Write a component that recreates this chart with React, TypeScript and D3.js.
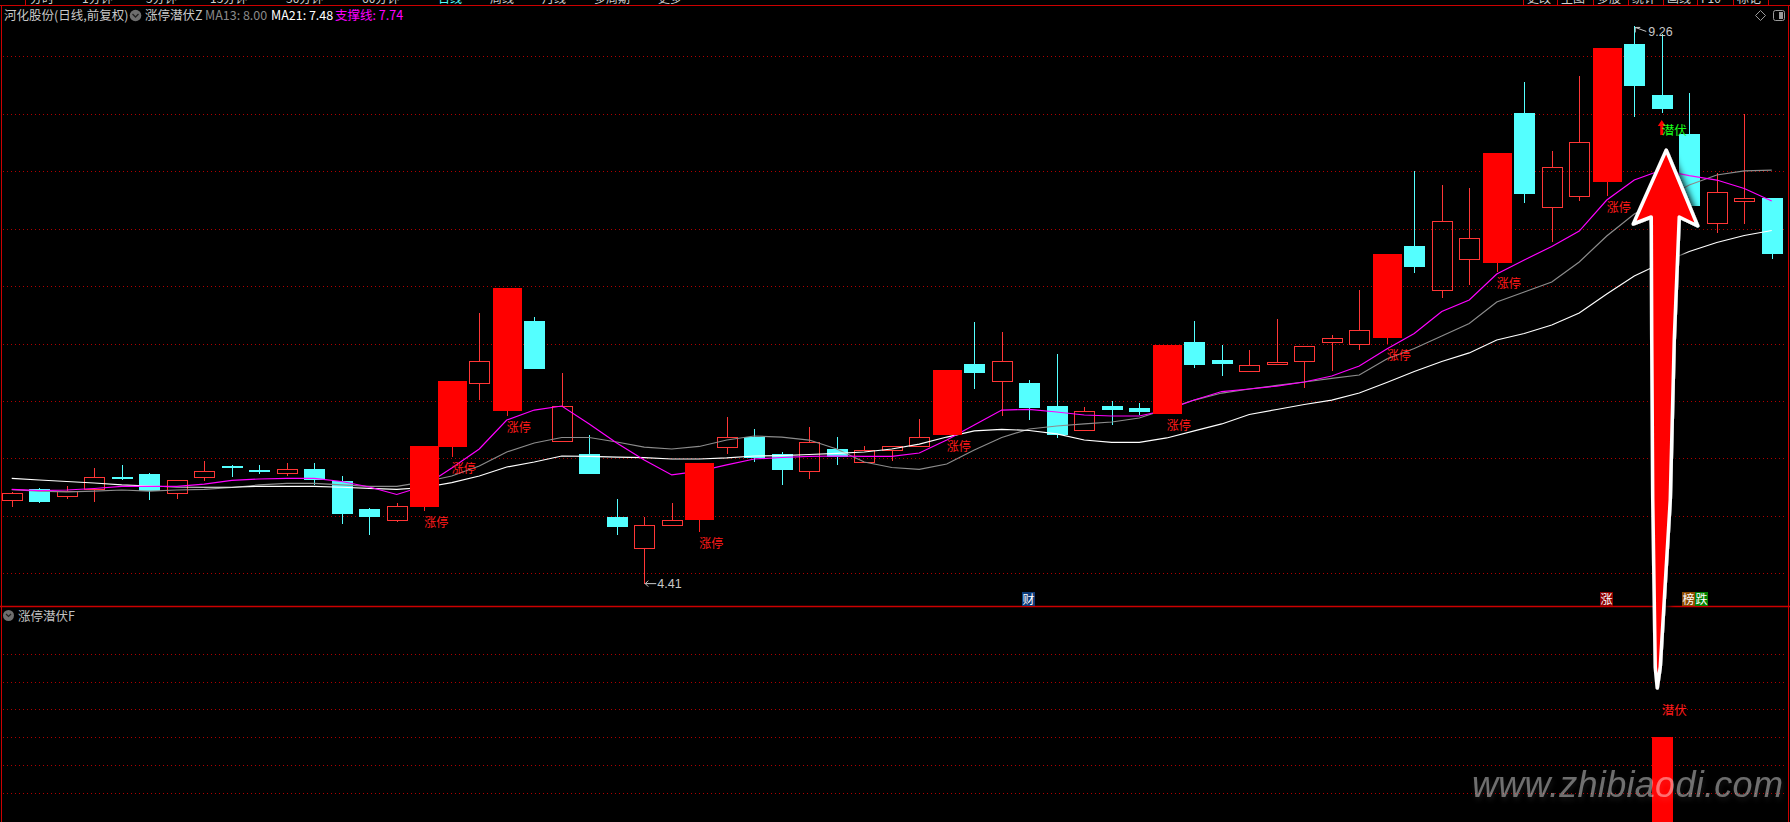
import React, { useEffect } from 'react';
import * as d3 from 'd3';

const W = 1790;
const H = 822;

// ---- daily OHLC (河化股份, 日线 前复权) ----
const opens = [5.14, 5.23, 5.17, 5.23, 5.34, 5.36, 5.20, 5.34, 5.43, 5.40, 5.37, 5.41, 5.30, 5.06, 4.96, 5.08, 5.60, 6.16, 5.91, 6.70, 5.65, 5.54, 4.99, 4.72, 4.92, 4.96, 5.60, 5.69, 5.54, 5.39, 5.58, 5.47, 5.57, 5.61, 5.70, 6.32, 6.17, 6.16, 5.96, 5.75, 5.96, 5.94, 5.89, 6.51, 6.36, 6.26, 6.32, 6.35, 6.51, 6.50, 6.55, 7.35, 6.97, 7.24, 7.20, 8.51, 7.69, 7.78, 7.91, 9.11, 8.66, 8.32, 7.55, 7.74, 7.77];
const highs = [5.21, 5.24, 5.26, 5.42, 5.44, 5.37, 5.31, 5.48, 5.44, 5.44, 5.46, 5.46, 5.35, 5.07, 5.11, 5.61, 6.17, 6.77, 6.98, 6.73, 6.24, 5.70, 5.15, 4.99, 5.11, 5.46, 5.86, 5.76, 5.56, 5.77, 5.69, 5.61, 5.61, 5.84, 6.27, 6.69, 6.60, 6.18, 6.41, 5.95, 6.00, 5.98, 6.49, 6.70, 6.49, 6.44, 6.71, 6.48, 6.57, 6.97, 7.28, 8.00, 7.88, 7.85, 8.16, 8.78, 8.18, 8.83, 9.07, 9.26, 9.19, 8.68, 7.98, 8.50, 7.77];
const lows = [5.08, 5.11, 5.15, 5.12, 5.31, 5.14, 5.15, 5.30, 5.34, 5.36, 5.35, 5.27, 4.93, 4.83, 4.95, 5.04, 5.51, 6.01, 5.87, 6.28, 5.65, 5.36, 4.83, 4.41, 4.92, 4.86, 5.54, 5.47, 5.27, 5.32, 5.44, 5.47, 5.48, 5.61, 5.70, 6.10, 5.87, 5.83, 5.68, 5.75, 5.79, 5.88, 5.89, 6.29, 6.22, 6.26, 6.32, 6.11, 6.26, 6.44, 6.50, 7.11, 6.90, 7.01, 7.12, 7.72, 7.38, 7.74, 7.78, 8.47, 8.51, 7.69, 7.46, 7.54, 7.24];
const closes = [5.20, 5.12, 5.22, 5.34, 5.33, 5.22, 5.31, 5.39, 5.42, 5.39, 5.41, 5.31, 5.02, 4.99, 5.09, 5.61, 6.17, 6.35, 6.98, 6.28, 5.96, 5.36, 4.90, 4.92, 4.96, 5.46, 5.69, 5.50, 5.40, 5.64, 5.51, 5.57, 5.61, 5.69, 6.27, 6.24, 6.35, 5.94, 5.70, 5.91, 5.92, 5.90, 6.49, 6.31, 6.32, 6.31, 6.34, 6.48, 6.55, 6.62, 7.28, 7.17, 7.57, 7.42, 8.16, 7.80, 8.04, 8.25, 9.07, 8.74, 8.54, 7.70, 7.82, 7.77, 7.28];

// limit-up (涨停) days
const limitUpIdx = [15, 16, 18, 25, 34, 42, 50, 54, 58];

// moving averages
const ma13 = [5.229, 5.216, 5.208, 5.216, 5.225, 5.216, 5.225, 5.231, 5.247, 5.269, 5.283, 5.283, 5.269, 5.257, 5.257, 5.295, 5.347, 5.434, 5.556, 5.634, 5.682, 5.682, 5.643, 5.599, 5.582, 5.604, 5.660, 5.695, 5.686, 5.660, 5.582, 5.469, 5.421, 5.405, 5.451, 5.573, 5.682, 5.756, 5.782, 5.800, 5.817, 5.852, 5.930, 6.008, 6.069, 6.104, 6.135, 6.165, 6.196, 6.226, 6.365, 6.457, 6.565, 6.674, 6.861, 6.948, 7.035, 7.210, 7.436, 7.627, 7.749, 7.880, 7.967, 8.002, 8.010];
const ma21 = [5.327, 5.312, 5.299, 5.286, 5.269, 5.260, 5.251, 5.249, 5.249, 5.257, 5.257, 5.257, 5.249, 5.240, 5.231, 5.247, 5.290, 5.347, 5.425, 5.469, 5.521, 5.517, 5.512, 5.506, 5.495, 5.495, 5.504, 5.521, 5.525, 5.534, 5.543, 5.556, 5.582, 5.625, 5.686, 5.739, 5.753, 5.743, 5.713, 5.660, 5.640, 5.640, 5.678, 5.739, 5.800, 5.882, 5.926, 5.969, 6.008, 6.069, 6.161, 6.257, 6.344, 6.418, 6.531, 6.587, 6.661, 6.766, 6.931, 7.088, 7.201, 7.301, 7.379, 7.440, 7.484];
const supportLine = [5.231, 5.219, 5.225, 5.238, 5.256, 5.257, 5.257, 5.277, 5.308, 5.321, 5.327, 5.327, 5.299, 5.251, 5.186, 5.260, 5.417, 5.582, 5.834, 5.921, 5.956, 5.800, 5.634, 5.486, 5.356, 5.390, 5.443, 5.495, 5.508, 5.517, 5.521, 5.517, 5.517, 5.547, 5.660, 5.791, 5.921, 5.926, 5.904, 5.878, 5.869, 5.869, 5.921, 6.008, 6.082, 6.104, 6.130, 6.165, 6.217, 6.304, 6.452, 6.587, 6.779, 6.879, 7.105, 7.227, 7.345, 7.479, 7.749, 7.923, 8.010, 7.962, 7.923, 7.849, 7.741];

// grids
const priceGrid = [9.0, 8.5, 8.0, 7.5, 7.0, 6.5, 6.0, 5.5, 5.0, 4.5];
const lowerGrid = [1, 2, 3, 4, 5, 6];

// 潜伏 signal
const signalIdx = 60;
const signalValue = 3;

// bottom event marks
const markIdx = [37, 58, 61, 61];
const markText = ['财', '涨', '榜', '跌'];
const markBg = ['#0c3a78', '#8a0000', '#8a4a00', '#008000'];
const markShift = [0, 0, 0, 13];

// header
const titleParts = ['河化股份(日线,前复权)', '涨停潜伏Z', 'MA13: 8.00', 'MA21: 7.48', '支撑线: 7.74'];
const titleColors = ['#c8c8c8', '#c8c8c8', '#8a8a8a', '#ffffff', '#ff00ff'];
const titleX = [4, 145, 205, 271, 335];
const topTabs = ['分时', '1分钟', '5分钟', '15分钟', '30分钟', '60分钟', '日线', '周线', '月线', '多周期', '更多'];
const rightTabs = ['更改', '主图', '多股', '统计', '画线', 'F10', '标记'];

const CJK = '"Noto Sans CJK SC", "Noto Sans", sans-serif';
const SANS = '"Liberation Sans", Arial, sans-serif';
const RED = '#ff3636';
const CYAN = '#54ffff';
const GRID = '#b00000';
const BORDER = '#cc0000';

export default function App() {
  useEffect(() => {
    document.body.style.margin = '0';
    document.body.style.background = '#000';
    document.body.style.overflow = 'hidden';
  }, []);

  const n = opens.length;
  const idx = d3.range(n);
  const x = d3.scaleBand<number>().domain(idx).range([-2, 1785.5]);
  const cx = (i: number) => (x(i) as number) + x.bandwidth() / 2;
  const y = d3.scaleLinear().domain([4.5, 9]).range([573.3, 56.3]);
  const yl = d3.scaleLinear().domain([0, 6]).range([820.3, 654]);
  const limitSet = new Set(limitUpIdx);
  const R = (v: number) => Math.round(v);

  const linePath = (vals: number[]) =>
    d3.line<number>().x((_, i) => cx(i)).y((v) => y(v))(vals) || '';

  const hiI = d3.maxIndex(highs);
  const loI = d3.minIndex(lows);

  // big arrow anchored at signal candle
  const ac = cx(signalIdx);
  const arrowPts: [number, number][] = [
    [ac + 4.5, 150], [ac + 36, 226], [ac + 17.5, 217], [ac + 12.5, 340], [ac + 8.5, 500],
    [ac + 2.5, 600], [ac - 1.5, 667], [ac - 4.5, 688], [ac - 6.5, 667], [ac - 7.5, 600],
    [ac - 9, 500], [ac - 10, 340], [ac - 10.5, 217], [ac - 28.5, 224],
  ];
  const arrowD = d3.line()(arrowPts) + 'Z';

  let tabX = 30;
  const tabPos = topTabs.map((t) => {
    const p = tabX;
    tabX += t.length * 12 + 28;
    return p;
  });
  const rightTabX = [1523, 1557, 1593, 1628, 1663, 1697, 1733, 1768];

  return (
    <svg width={W} height={H} style={{ position: 'absolute', left: 0, top: 0, background: '#000', display: 'block' }}>
      <defs>
        <filter id="arrowShadow" x="-50%" y="-20%" width="200%" height="140%">
          <feDropShadow dx="3" dy="3" stdDeviation="3.5" floodColor="#000" floodOpacity="1" />
        </filter>
        <filter id="wm" x="-10%" y="-30%" width="120%" height="160%">
          <feDropShadow dx="1" dy="3" stdDeviation="2.5" floodColor="#ffffff" floodOpacity="0.2" />
        </filter>
        <clipPath id="topClip"><rect x={0} y={0} width={W} height={5} /></clipPath>
      </defs>
      <rect x={0} y={0} width={W} height={H} fill="#000" />

      {/* top toolbar fragments (cut off at the window top, as in the screenshot) */}
      <g clipPath="url(#topClip)" fontFamily={CJK} fontSize={12} fill="#d0d0d0">
        {topTabs.map((t, i) => (
          <text key={t} x={tabPos[i]} y={3} fill={i === 6 ? '#54ffff' : '#d0d0d0'}>{t}</text>
        ))}
        {rightTabs.map((t, i) => (
          <text key={t} x={rightTabX[i] + 4} y={3}>{t}</text>
        ))}
      </g>
      {rightTabX.map((v) => (
        <line key={v} x1={v + 0.5} x2={v + 0.5} y1={0} y2={5} stroke={BORDER} />
      ))}
      <line x1={25.5} x2={25.5} y1={0} y2={5} stroke={BORDER} />
      <line x1={0} x2={W} y1={5.5} y2={5.5} stroke={BORDER} />

      {/* borders */}
      <line x1={1.5} x2={1.5} y1={5} y2={H} stroke={BORDER} />
      <line x1={1788.5} x2={1788.5} y1={5} y2={H} stroke={BORDER} />
      <line x1={0} x2={W} y1={606.5} y2={606.5} stroke={BORDER} strokeWidth={1.5} />

      {/* grids */}
      {priceGrid.map((p) => (
        <line key={p} x1={3} x2={1787} y1={R(y(p)) + 0.5} y2={R(y(p)) + 0.5} stroke={GRID} strokeDasharray="1 3" />
      ))}
      {lowerGrid.map((v) => (
        <line key={v} x1={3} x2={1787} y1={R(yl(v)) + 0.5} y2={R(yl(v)) + 0.5} stroke={GRID} strokeDasharray="1 3" />
      ))}

      {/* header */}
      <g fontFamily={CJK} fontSize={12.5}>
        <text x={titleX[0]} y={20} fill={titleColors[0]}>{titleParts[0]}</text>
        <circle cx={135.5} cy={15.5} r={5.8} fill="#6e6e6e" />
        <path d="M132.5,14 L135.5,17 L138.5,14" stroke="#222" strokeWidth={1.3} fill="none" />
        {titleParts.slice(1).map((t, k) => (
          <text key={t} x={titleX[k + 1]} y={20} fill={titleColors[k + 1]}>{t}</text>
        ))}
      </g>
      {/* top-right icons */}
      <path d="M1760.5,10.5 L1765.5,15.5 L1760.5,20.5 L1755.5,15.5 Z" fill="none" stroke="#9a9a9a" />
      <rect x={1773.5} y={10.5} width={11} height={10} rx={2} fill="none" stroke="#9a9a9a" />
      <rect x={1779} y={12} width={4} height={7} fill="#9a9a9a" />

      {/* normal candles */}
      <g shapeRendering="crispEdges">
        {idx.filter((i) => !limitSet.has(i)).map((i) => {
          const c = R(cx(i));
          const up = closes[i] >= opens[i];
          const yH = R(y(highs[i]));
          const yL = R(y(lows[i]));
          const yO = R(y(opens[i]));
          const yC = R(y(closes[i]));
          if (up) {
            const top = Math.min(yO, yC);
            const bot = Math.max(yO, yC);
            return (
              <g key={i} stroke={RED} fill="none">
                {yH < top && <line x1={c + 0.5} x2={c + 0.5} y1={yH} y2={top} />}
                {yL > bot && <line x1={c + 0.5} x2={c + 0.5} y1={bot + 1} y2={yL} />}
                <rect x={c - 10 + 0.5} y={top + 0.5} width={20} height={Math.max(bot - top, 1)} />
              </g>
            );
          }
          return (
            <g key={i}>
              <line x1={c + 0.5} x2={c + 0.5} y1={yH} y2={yL} stroke={CYAN} />
              <rect x={c - 10} y={yO} width={21} height={Math.max(yC - yO, 2)} fill={CYAN} />
            </g>
          );
        })}
      </g>

      {/* moving averages */}
      <g fill="none" strokeWidth={1.2}>
        <path d={linePath(ma13)} stroke="#8c8c8c" />
        <path d={linePath(ma21)} stroke="#ffffff" />
        <path d={linePath(supportLine)} stroke="#ff00ff" />
      </g>

      {/* limit-up bars on top */}
      <g shapeRendering="crispEdges">
        {limitUpIdx.map((i) => {
          const c = R(cx(i));
          const yH = R(y(highs[i]));
          const yL = R(y(lows[i]));
          const yO = R(y(opens[i]));
          const yC = R(y(closes[i]));
          return (
            <g key={i}>
              <line x1={c + 0.5} x2={c + 0.5} y1={yH} y2={yL} stroke="#ff2020" />
              <rect x={c - 14} y={yC} width={29} height={yO - yC} fill="#ff0000" />
            </g>
          );
        })}
      </g>
      <g fontFamily={CJK} fontSize={12} fill="#ff1a1a">
        {limitUpIdx.map((i) => (
          <text key={i} x={cx(i)} y={y(lows[i]) + 16}>涨停</text>
        ))}
      </g>

      {/* extremes */}
      <g stroke="#c8c8c8" fill="none" strokeWidth={1}>
        <path d={`M${cx(hiI) + 1},${y(highs[hiI]) + 1} L${cx(hiI) + 12},${y(highs[hiI]) + 5}`} />
        <path d={`M${cx(hiI) + 1},${y(highs[hiI]) + 6} L${cx(hiI) + 1},${y(highs[hiI]) + 1} L${cx(hiI) + 6},${y(highs[hiI]) + 1}`} />
        <path d={`M${cx(loI) + 1},${y(lows[loI])} L${cx(loI) + 12},${y(lows[loI])}`} />
        <path d={`M${cx(loI) + 4},${y(lows[loI]) - 3} L${cx(loI) + 1},${y(lows[loI])} L${cx(loI) + 4},${y(lows[loI]) + 3}`} />
      </g>
      <g fontFamily={SANS} fontSize={12.5} fill="#c8c8c8">
        <text x={cx(hiI) + 14} y={y(highs[hiI]) + 9.5}>{highs[hiI].toFixed(2)}</text>
        <text x={cx(loI) + 13} y={y(lows[loI]) + 4.5}>{lows[loI].toFixed(2)}</text>
      </g>

      {/* 潜伏 marker in main pane */}
      <path
        d={`M${ac},${120} L${ac + 4},${126} L${ac + 1.5},${126} L${ac + 1.5},${135} L${ac - 1.5},${135} L${ac - 1.5},${126} L${ac - 4},${126} Z`}
        fill="#ff0000"
      />
      <text x={ac} y={135} fontFamily={CJK} fontSize={12.5} fill="#1aff1a">潜伏</text>

      {/* bottom marks */}
      <g fontFamily={CJK} fontSize={12}>
        {markIdx.map((i, k) => {
          const left = R(cx(i)) - 7 + markShift[k];
          return (
            <g key={k}>
              <rect x={left} y={592} width={13} height={14} fill={markBg[k]} />
              <text x={left + 0.5} y={603.5} fill="#ffffff">{markText[k]}</text>
            </g>
          );
        })}
      </g>

      {/* lower pane */}
      <circle cx={8.5} cy={615.5} r={5.5} fill="#6e6e6e" />
      <path d="M6,614 L8.5,616.5 L11,614" stroke="#222" strokeWidth={1.2} fill="none" />
      <text x={18} y={621} fontFamily={CJK} fontSize={12.5} fill="#c0c0c0">涨停潜伏F</text>
      <rect
        x={R(cx(signalIdx)) - 10}
        y={R(yl(signalValue))}
        width={21}
        height={H - R(yl(signalValue))}
        fill="#ff0000"
        shapeRendering="crispEdges"
      />
      <text x={cx(signalIdx)} y={yl(signalValue + 1) + 5.5} fontFamily={CJK} fontSize={12.5} fill="#ff1a1a">潜伏</text>

      {/* big arrow */}
      <path d={arrowD} fill="#ff0000" stroke="#ffffff" strokeWidth={3.5} strokeLinejoin="round" filter="url(#arrowShadow)" />

      {/* watermark */}
      <text
        x={1472}
        y={797}
        fontFamily={SANS}
        fontStyle="italic"
        fontSize={36}
        letterSpacing={0.3}
        fill="#ffffff"
        fillOpacity={0.42}
        filter="url(#wm)"
      >
        www.zhibiaodi.com
      </text>
    </svg>
  );
}
